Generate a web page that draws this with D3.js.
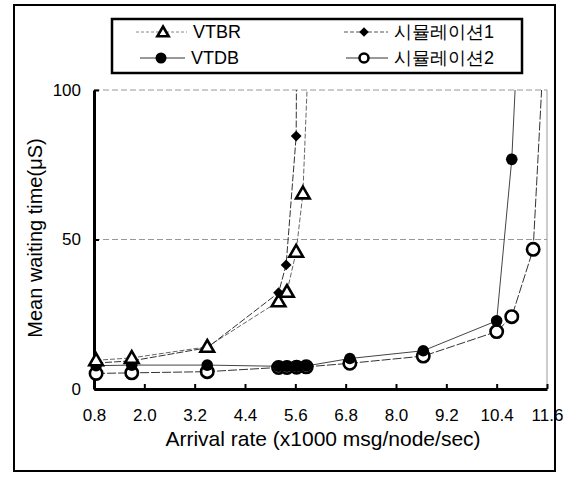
<!DOCTYPE html>
<html>
<head>
<meta charset="utf-8">
<script src="https://cdn.jsdelivr.net/npm/d3@7"></script>
<style>
body { margin: 0; background: #fff; }
text { font-family: "Liberation Sans", Arial, sans-serif; fill: #000; }
</style>
</head>
<body>
<script>
var W = 573, H = 477;

// data
var xTicks = [0.8, 2.0, 3.2, 4.4, 5.6, 6.8, 8.0, 9.2, 10.4, 11.6];
var yTicks = [0, 50, 100];

var vtbrX = [0.85, 1.7, 3.5, 5.2, 5.4, 5.62, 5.78, 6.05];
var vtbrY = [9.6, 10.4, 14.1, 29.3, 32.5, 45.9, 65.4, 160];

var sim1X = [0.85, 1.7, 3.5, 5.2, 5.38, 5.62, 5.66];
var sim1Y = [8.7, 9.4, 13.8, 32.2, 41.5, 84.6, 200];

var vtdbX = [0.85, 1.7, 3.5, 5.2, 5.4, 5.63, 5.86, 6.9, 8.65, 10.4, 10.76, 11.18];
var vtdbY = [7.8, 8.0, 8.0, 7.6, 7.6, 7.6, 7.7, 10.2, 12.8, 22.8, 76.8, 200];

var sim2X = [0.85, 1.7, 3.5, 5.2, 5.4, 5.63, 5.86, 6.9, 8.65, 10.4, 10.76, 11.27, 11.66];
var sim2Y = [5.2, 5.4, 5.8, 7.2, 7.2, 7.3, 7.4, 8.6, 11.0, 19.2, 24.2, 46.7, 150];

var svg = d3.select("body").append("svg").attr("width", W).attr("height", H);

// outer frame
svg.append("rect").attr("x", 14).attr("y", 5).attr("width", 541).attr("height", 466)
  .attr("fill", "none").attr("stroke", "#000").attr("stroke-width", 2);

var x = d3.scaleLinear().domain([0.8, 11.6]).range([94, 547]);
var y = d3.scaleLinear().domain([0, 100]).range([389, 90]);

svg.append("clipPath").attr("id", "clip").append("rect")
  .attr("x", 80).attr("y", 90).attr("width", 480).attr("height", 310);

// grid
svg.selectAll(".grid").data([50, 100]).enter().append("line")
  .attr("x1", x(0.8)).attr("x2", x(11.6))
  .attr("y1", d => y(d)).attr("y2", d => y(d))
  .attr("stroke", "#999").attr("stroke-width", 1).attr("stroke-dasharray", "6,3");
svg.append("line").attr("x1", x(11.6)).attr("x2", x(11.6)).attr("y1", y(100)).attr("y2", y(0))
  .attr("stroke", "#999").attr("stroke-width", 1);

// axes
var xAxis = d3.axisBottom(x).tickValues(xTicks).tickSizeInner(-5).tickSizeOuter(0)
  .tickFormat(d3.format(".1f"));
var gx = svg.append("g").attr("transform", "translate(0," + y(0) + ")").call(xAxis);
gx.attr("font-size", 17).attr("font-family", null);
gx.select(".domain").attr("stroke-width", 3);
gx.selectAll(".tick line").attr("stroke-width", 2);
gx.selectAll("text").attr("font-size", 17).attr("y", 20).attr("dy", "0.71em");

var yAxis = d3.axisLeft(y).tickValues(yTicks).tickSizeInner(-5).tickSizeOuter(0);
var gy = svg.append("g").attr("transform", "translate(" + x(0.8) + ",0)").call(yAxis);
gy.attr("font-size", 17).attr("font-family", null);
gy.select(".domain").attr("stroke-width", 3);
gy.selectAll(".tick line").attr("stroke-width", 2);
gy.selectAll("text").attr("font-size", 17).attr("x", -13);

svg.append("text").attr("x", 323).attr("y", 446).attr("text-anchor", "middle")
  .attr("font-size", 21).text("Arrival rate (x1000 msg/node/sec)");
svg.append("text").attr("transform", "translate(42,238) rotate(-90)").attr("text-anchor", "middle")
  .attr("font-size", 20).text("Mean waiting time(\u03bcS)");

// lines
var series = [
  { xs: vtbrX, ys: vtbrY, dash: "5,2", color: "#666" },
  { xs: sim1X, ys: sim1Y, dash: "7,2", color: "#333" },
  { xs: vtdbX, ys: vtdbY, dash: null, color: "#444" },
  { xs: sim2X, ys: sim2Y, dash: "9,2", color: "#333" }
];
var line = d3.line().x(d => x(d[0])).y(d => y(d[1]));
var gl = svg.append("g").attr("clip-path", "url(#clip)");
series.forEach(function (s) {
  gl.append("path").datum(d3.zip(s.xs, s.ys)).attr("d", line)
    .attr("fill", "none").attr("stroke", s.color).attr("stroke-width", 1)
    .attr("stroke-dasharray", s.dash);
});

// markers
var triangle = d3.symbol().type(d3.symbolTriangle).size(80);
var diamond = d3.symbol().type(d3.symbolSquare).size(58);
function inside(d) { return d[1] <= 100; }

var gm = svg.append("g");
gm.selectAll(".c2").data(d3.zip(sim2X, sim2Y).filter(inside)).enter().append("circle")
  .attr("cx", d => x(d[0])).attr("cy", d => y(d[1])).attr("r", 6.2)
  .attr("fill", "#fff").attr("stroke", "#000").attr("stroke-width", 2.6);
gm.selectAll(".c1").data(d3.zip(vtdbX, vtdbY).filter(inside)).enter().append("circle")
  .attr("cx", d => x(d[0])).attr("cy", d => y(d[1])).attr("r", 5.8).attr("fill", "#000");
gm.selectAll(".dm").data(d3.zip(sim1X, sim1Y).filter(inside)).enter().append("path")
  .attr("d", diamond).attr("transform", d => "translate(" + x(d[0]) + "," + y(d[1]) + ") rotate(45)")
  .attr("fill", "#000");
gm.selectAll(".tr").data(d3.zip(vtbrX, vtbrY).filter(inside)).enter().append("path")
  .attr("d", triangle).attr("transform", d => "translate(" + x(d[0]) + "," + (y(d[1]) + 1) + ")")
  .attr("fill", "#fff").attr("stroke", "#000").attr("stroke-width", 2.6);

// legend
svg.append("rect").attr("x", 112).attr("y", 19).attr("width", 410).attr("height", 54)
  .attr("fill", "#fff").attr("stroke", "#000").attr("stroke-width", 2.5);
var legend = [
  { name: "VTBR", lx: 136, mx: 163, ty: 32, kind: "tri", dash: "3,2", color: "#888" },
  { name: "VTDB", lx: 140, mx: 161, ty: 58, kind: "dot", dash: null, color: "#333" },
  { name: "시뮬레이션1", lx: 344, mx: 364, ty: 32, kind: "dia", dash: "4,2", color: "#555" },
  { name: "시뮬레이션2", lx: 346, mx: 364, ty: 58, kind: "ring", dash: null, color: "#333" }
];
legend.forEach(function (l) {
  svg.append("line").attr("x1", l.lx).attr("x2", l.mx + 24).attr("y1", l.ty).attr("y2", l.ty)
    .attr("stroke", l.color).attr("stroke-width", 1).attr("stroke-dasharray", l.dash);
  if (l.kind == "tri") {
    svg.append("path").attr("d", d3.symbol().type(d3.symbolTriangle).size(55))
      .attr("transform", "translate(" + l.mx + "," + (l.ty + 1) + ")")
      .attr("fill", "#fff").attr("stroke", "#000").attr("stroke-width", 2.6);
  } else if (l.kind == "dot") {
    svg.append("circle").attr("cx", l.mx).attr("cy", l.ty).attr("r", 5.5).attr("fill", "#000");
  } else if (l.kind == "dia") {
    svg.append("path").attr("d", d3.symbol().type(d3.symbolSquare).size(45))
      .attr("transform", "translate(" + l.mx + "," + l.ty + ") rotate(45)").attr("fill", "#000");
  } else {
    svg.append("circle").attr("cx", l.mx).attr("cy", l.ty).attr("r", 4.5)
      .attr("fill", "#fff").attr("stroke", "#000").attr("stroke-width", 2.6);
  }
  svg.append("text").attr("x", l.mx + 30).attr("y", l.ty).attr("dy", "0.35em")
    .attr("font-size", 18).text(l.name);
});
</script>
</body>
</html>
